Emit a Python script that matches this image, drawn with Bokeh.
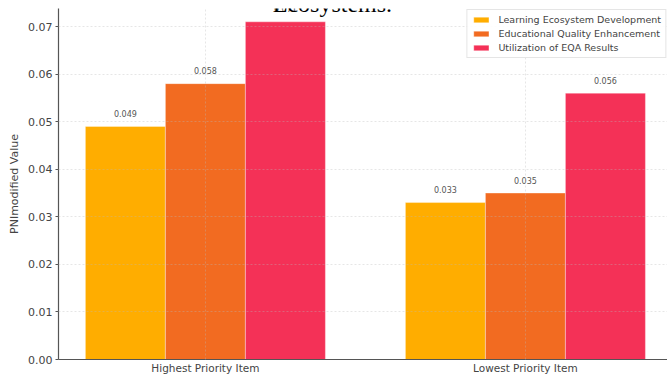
from bokeh.plotting import figure
from bokeh.models import Range1d, FixedTicker, Label, Legend, LegendItem, ColumnDataSource, NumeralTickFormatter
from bokeh.core.properties import value
from bokeh.embed import file_html
from bokeh.resources import INLINE

categories = ["Highest Priority Item", "Lowest Priority Item"]
series_names = ["Learning Ecosystem Development", "Educational Quality Enhancement", "Utilization of EQA Results"]
learning = [0.049, 0.033]
quality = [0.058, 0.035]
utilization = [0.071, 0.056]
y_ticks = [0.00, 0.01, 0.02, 0.03, 0.04, 0.05, 0.06, 0.07]
colors = ["#FFAD00", "#F26B21", "#F43157"]
title_text = "Ecosystems."

FONT = "DejaVu Sans"
p = figure(width=667, height=376, output_backend="svg", toolbar_location=None,
           x_range=Range1d(-0.459, 1.444), y_range=Range1d(0, 0.0738),
           min_border_left=58, min_border_right=0, min_border_top=8, min_border_bottom=17)
p.outline_line_color = None
p.background_fill_color = "white"

series = [learning, quality, utilization]
offsets = [-0.25, 0.0, 0.25]
xs = list(range(len(categories)))
items = []
for vals, off, col, name in zip(series, offsets, colors, series_names):
    src = ColumnDataSource(dict(x=[i + off for i in xs], top=vals,
                                lab=[f"{v:.3f}" for v in vals]))
    r = p.vbar(x="x", top="top", width=0.25, source=src, fill_color=col,
               line_color="white", line_alpha=0.35, line_width=1)
    items.append(LegendItem(label=name, renderers=[r]))
    p.text(x="x", y="top", text="lab", source=src, y_offset=-13,
           text_align="center", text_baseline="middle", text_font=value(FONT),
           text_font_size="8px", text_color="#555555")

# axes
p.xaxis.ticker = FixedTicker(ticks=xs)
p.xaxis.major_label_overrides = {i: c for i, c in enumerate(categories)}
p.yaxis.ticker = FixedTicker(ticks=y_ticks)
p.yaxis.formatter = NumeralTickFormatter(format="0.00")
for ax in (p.xaxis[0], p.yaxis[0]):
    ax.axis_line_color = "#555555"
    ax.axis_line_width = 1.2
    ax.major_tick_line_color = "#555555"
    ax.minor_tick_line_color = None
    ax.major_label_text_font = FONT
    ax.major_label_text_font_size = "11px"
    ax.major_label_text_color = "#444444"
p.xaxis.major_label_text_font_size = "10.5px"
p.xaxis.major_tick_in = 0
p.xaxis.major_tick_out = 0
p.xaxis.major_label_standoff = 2
p.yaxis.major_tick_in = 0
p.yaxis.major_tick_out = 3
p.yaxis.major_label_standoff = 3
p.yaxis.axis_label = "PNImodified Value"
p.yaxis.axis_label_text_font = FONT
p.yaxis.axis_label_text_font_size = "11px"
p.yaxis.axis_label_text_font_style = "normal"
p.yaxis.axis_label_text_color = "#444444"
p.yaxis.axis_label_standoff = 4

for g in (p.xgrid[0], p.ygrid[0]):
    g.grid_line_color = "#b8b8b8"
    g.grid_line_alpha = 0.45
    g.grid_line_width = 0.8
    g.grid_line_dash = "2 2"
    g.level = "annotation"

legend = Legend(items=items, location="top_right", margin=1, padding=4,
                spacing=3, label_height=11, glyph_height=7, glyph_width=19,
                label_standoff=8, label_text_font=FONT, label_text_font_size="9.5px",
                label_text_color="#444444", border_line_color="#cccccc",
                background_fill_alpha=0.9)
p.add_layout(legend)

p.add_layout(Label(x=0.397, y=0.07465, text=title_text, text_align="center",
                   text_baseline="alphabetic", text_font="Liberation Serif",
                   text_font_size="24px", text_color="black"))

open("out.html", "w").write(file_html(p, INLINE))
